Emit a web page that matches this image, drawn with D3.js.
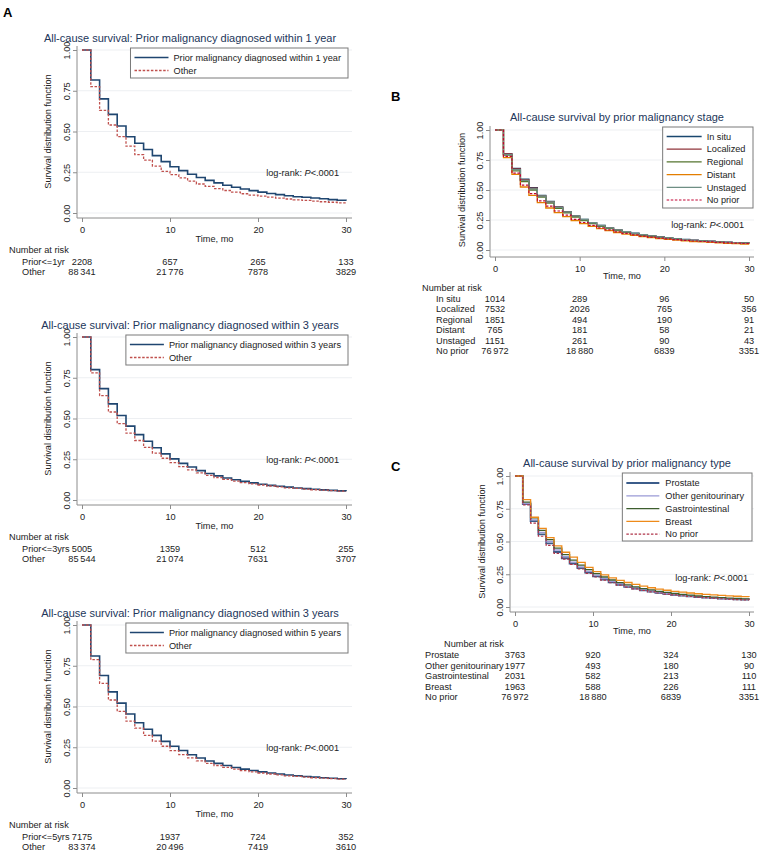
<!DOCTYPE html>
<html><head><meta charset="utf-8">
<script src="https://cdn.jsdelivr.net/npm/d3@7"></script>
<style>
body{margin:0;background:#fff;}
svg text{font-family:"Liberation Sans", Arial, sans-serif;}
</style>
</head><body>
<svg id="chart" width="760" height="853"></svg>
<script>
// ---------- shared ----------
const xTicks = [0, 10, 20, 30];
const yTicks = [0, 0.25, 0.5, 0.75, 1];
const riskHeader = "Number at risk";
const logRankLabel = "log-rank: ";
const logRankP = "P";
const logRankValue = "<.0001";
const xTitle = "Time, mo";
const yTitle = "Survival distribution function";

// ---------- Panel A1 : within 1 year ----------
const a1Title = "All-cause survival: Prior malignancy diagnosed within 1 year";
const a1Legend = ["Prior malignancy diagnosed within 1 year", "Other"];
const a1Prior = [1, 0.816, 0.70, 0.605, 0.534, 0.468, 0.428, 0.39, 0.352, 0.315, 0.284, 0.26, 0.238, 0.218, 0.2, 0.185, 0.17, 0.158, 0.147, 0.137, 0.128, 0.12, 0.113, 0.106, 0.1, 0.097, 0.092, 0.087, 0.082, 0.078, 0.075];
const a1Other = [1, 0.775, 0.63, 0.54, 0.468, 0.41, 0.358, 0.325, 0.288, 0.255, 0.235, 0.215, 0.195, 0.178, 0.163, 0.15, 0.138, 0.128, 0.118, 0.11, 0.104, 0.097, 0.091, 0.086, 0.081, 0.077, 0.073, 0.069, 0.066, 0.062, 0.059];
const a1RiskLabels = ["Prior<=1yr", "Other"];
const a1RiskPrior = ["2208", "657", "265", "133"];
const a1RiskOther = ["88\u2009341", "21\u2009776", "7878", "3829"];

// ---------- Panel A2 : within 3 years ----------
const a2Title = "All-cause survival: Prior malignancy diagnosed within 3 years";
const a2Legend = ["Prior malignancy diagnosed within 3 years", "Other"];
const a2Prior = [1, 0.80, 0.683, 0.59, 0.518, 0.453, 0.401, 0.36, 0.321, 0.283, 0.252, 0.225, 0.202, 0.18, 0.163, 0.148, 0.135, 0.124, 0.114, 0.105, 0.097, 0.09, 0.084, 0.079, 0.074, 0.07, 0.066, 0.062, 0.059, 0.056, 0.054];
const a2Other = [1, 0.78, 0.64, 0.54, 0.468, 0.41, 0.365, 0.323, 0.288, 0.256, 0.229, 0.205, 0.185, 0.167, 0.151, 0.138, 0.126, 0.116, 0.107, 0.099, 0.092, 0.086, 0.08, 0.075, 0.071, 0.067, 0.063, 0.06, 0.057, 0.054, 0.052];
const a2RiskLabels = ["Prior<=3yrs", "Other"];
const a2RiskPrior = ["5005", "1359", "512", "255"];
const a2RiskOther = ["85\u2009544", "21\u2009074", "7631", "3707"];

// ---------- Panel A3 : within 5 years ----------
const a3Title = "All-cause survival: Prior malignancy diagnosed within 3 years";
const a3Legend = ["Prior malignancy diagnosed within 5 years", "Other"];
const a3Prior = [1, 0.81, 0.69, 0.59, 0.521, 0.454, 0.40, 0.36, 0.323, 0.286, 0.256, 0.23, 0.204, 0.184, 0.166, 0.151, 0.138, 0.126, 0.116, 0.107, 0.099, 0.092, 0.086, 0.08, 0.075, 0.071, 0.067, 0.063, 0.06, 0.057, 0.055];
const a3Other = [1, 0.787, 0.642, 0.54, 0.47, 0.41, 0.367, 0.323, 0.288, 0.256, 0.229, 0.205, 0.185, 0.167, 0.151, 0.138, 0.126, 0.116, 0.107, 0.099, 0.092, 0.086, 0.08, 0.075, 0.071, 0.067, 0.063, 0.06, 0.057, 0.054, 0.052];
const a3RiskLabels = ["Prior<=5yrs", "Other"];
const a3RiskPrior = ["7175", "1937", "724", "352"];
const a3RiskOther = ["83\u2009374", "20\u2009496", "7419", "3610"];

// ---------- Panel B : by stage ----------
const bTitle = "All-cause survival by prior malignancy stage";
const bLegend = ["In situ", "Localized", "Regional", "Distant", "Unstaged", "No prior"];
const bInSitu    = [1, 0.80, 0.68, 0.59, 0.52, 0.455, 0.405, 0.36, 0.32, 0.285, 0.255, 0.228, 0.205, 0.185, 0.168, 0.153, 0.14, 0.128, 0.118, 0.109, 0.101, 0.094, 0.088, 0.082, 0.077, 0.073, 0.069, 0.065, 0.062, 0.059, 0.057];
const bLocalized = [1, 0.80, 0.675, 0.585, 0.515, 0.45, 0.40, 0.357, 0.318, 0.282, 0.252, 0.225, 0.202, 0.182, 0.165, 0.15, 0.137, 0.125, 0.115, 0.106, 0.098, 0.091, 0.085, 0.08, 0.075, 0.071, 0.067, 0.064, 0.061, 0.058, 0.056];
const bRegional  = [1, 0.79, 0.66, 0.57, 0.50, 0.44, 0.39, 0.348, 0.31, 0.275, 0.245, 0.219, 0.197, 0.178, 0.161, 0.147, 0.134, 0.123, 0.113, 0.104, 0.096, 0.089, 0.083, 0.078, 0.073, 0.069, 0.065, 0.062, 0.059, 0.056, 0.054];
const bDistant   = [1, 0.77, 0.63, 0.525, 0.455, 0.395, 0.35, 0.312, 0.278, 0.246, 0.22, 0.197, 0.178, 0.161, 0.146, 0.133, 0.122, 0.112, 0.103, 0.095, 0.088, 0.082, 0.076, 0.071, 0.067, 0.063, 0.059, 0.056, 0.053, 0.05, 0.048];
const bUnstaged  = [1, 0.795, 0.67, 0.58, 0.51, 0.45, 0.40, 0.356, 0.318, 0.284, 0.254, 0.227, 0.204, 0.184, 0.167, 0.152, 0.139, 0.127, 0.117, 0.108, 0.1, 0.093, 0.087, 0.081, 0.076, 0.072, 0.068, 0.064, 0.061, 0.058, 0.056];
const bNoPrior   = [1, 0.78, 0.64, 0.54, 0.47, 0.41, 0.365, 0.325, 0.29, 0.256, 0.229, 0.205, 0.185, 0.167, 0.151, 0.138, 0.126, 0.116, 0.107, 0.099, 0.092, 0.086, 0.08, 0.075, 0.071, 0.067, 0.063, 0.06, 0.057, 0.054, 0.052];
const bRisk = [
  ["1014", "289", "96", "50"],
  ["7532", "2026", "765", "356"],
  ["1851", "494", "190", "91"],
  ["765", "181", "58", "21"],
  ["1151", "261", "90", "43"],
  ["76\u2009972", "18\u2009880", "6839", "3351"]
];

// ---------- Panel C : by type ----------
const cTitle = "All-cause survival by prior malignancy type";
const cLegend = ["Prostate", "Other genitourinary", "Gastrointestinal", "Breast", "No prior"];
const cProstate = [1, 0.785, 0.655, 0.555, 0.485, 0.42, 0.372, 0.332, 0.296, 0.262, 0.234, 0.209, 0.188, 0.17, 0.154, 0.14, 0.128, 0.118, 0.108, 0.1, 0.093, 0.087, 0.081, 0.076, 0.072, 0.068, 0.065, 0.062, 0.059, 0.057, 0.055];
const cOtherGU  = [1, 0.79, 0.665, 0.57, 0.50, 0.435, 0.385, 0.343, 0.306, 0.272, 0.243, 0.217, 0.195, 0.176, 0.16, 0.146, 0.133, 0.122, 0.113, 0.104, 0.097, 0.09, 0.084, 0.079, 0.074, 0.07, 0.066, 0.063, 0.06, 0.058, 0.056];
const cGI       = [1, 0.80, 0.68, 0.585, 0.515, 0.45, 0.40, 0.358, 0.32, 0.285, 0.255, 0.229, 0.206, 0.186, 0.169, 0.154, 0.141, 0.13, 0.12, 0.111, 0.103, 0.096, 0.09, 0.084, 0.079, 0.075, 0.071, 0.068, 0.065, 0.062, 0.06];
const cBreast   = [1, 0.82, 0.685, 0.60, 0.53, 0.466, 0.418, 0.38, 0.34, 0.303, 0.27, 0.245, 0.223, 0.204, 0.187, 0.172, 0.159, 0.147, 0.137, 0.128, 0.12, 0.113, 0.107, 0.101, 0.096, 0.092, 0.088, 0.085, 0.082, 0.079, 0.077];
const cNoPrior  = [1, 0.78, 0.64, 0.54, 0.47, 0.41, 0.365, 0.325, 0.29, 0.256, 0.229, 0.205, 0.185, 0.167, 0.151, 0.138, 0.126, 0.116, 0.107, 0.099, 0.092, 0.086, 0.08, 0.075, 0.071, 0.067, 0.063, 0.06, 0.057, 0.054, 0.052];
const cRisk = [
  ["3763", "920", "324", "130"],
  ["1977", "493", "180", "90"],
  ["2031", "582", "213", "110"],
  ["1963", "588", "226", "111"],
  ["76\u2009972", "18\u2009880", "6839", "3351"]
];

const panelLetters = ["A", "B", "C"];

// ---------- drawing ----------
const svg = d3.select("#chart");
const FS = 9.2;
const axisCol = "#8c8c8c";
const gridCol = "#edeff2";
const titleCol = "#22365a";
const textCol = "#222";

const navy = "#1f4670", red = "#c0504d";

function drawPanel(p) {
  const g = svg.append("g");
  const x = d3.scaleLinear().domain([0, 30]).range(p.xr);
  const y = d3.scaleLinear().domain([0, 1]).range(p.yr);

  // grid
  g.selectAll("line.grid").data(yTicks).join("line").attr("class", "grid")
    .attr("x1", p.ax + 1).attr("x2", p.right).attr("y1", d => y(d)).attr("y2", d => y(d))
    .attr("stroke", gridCol).attr("stroke-width", 1);

  // y axis
  const ya = g.append("g").attr("transform", `translate(${p.ax},0)`)
    .call(d3.axisLeft(y).tickValues(yTicks).tickFormat(d3.format(".2f")).tickSize(4));
  ya.select(".domain").remove();
  ya.selectAll(".tick line").attr("stroke", axisCol);
  ya.selectAll(".tick text").attr("transform", "rotate(-90)").attr("x", 0).attr("y", -7)
    .attr("dy", 0).attr("text-anchor", "middle").attr("fill", textCol)
    .attr("font-size", FS).attr("font-family", "Liberation Sans, Arial, sans-serif");

  // x axis
  const xa = g.append("g").attr("transform", `translate(0,${p.ay})`)
    .call(d3.axisBottom(x).tickValues(xTicks).tickFormat(d3.format("d")).tickSize(4));
  xa.select(".domain").remove();
  xa.selectAll(".tick line").attr("stroke", axisCol);
  xa.selectAll(".tick text").attr("y", 8).attr("fill", textCol)
    .attr("font-size", FS).attr("font-family", "Liberation Sans, Arial, sans-serif");

  // axis lines
  g.append("line").attr("x1", p.ax).attr("x2", p.ax).attr("y1", p.top).attr("y2", p.ay)
    .attr("stroke", axisCol);
  g.append("line").attr("x1", p.ax).attr("x2", p.right).attr("y1", p.ay).attr("y2", p.ay)
    .attr("stroke", axisCol);

  // titles
  g.append("text").attr("x", (p.ax + p.right) / 2).attr("y", p.ay + p.xtitleDy)
    .attr("text-anchor", "middle").attr("font-size", FS).attr("fill", textCol).text(xTitle);
  g.append("text").attr("transform", `translate(${p.ytitleX},${(p.yr[0] + p.yr[1]) / 2}) rotate(-90)`)
    .attr("text-anchor", "middle").attr("dy", "0.35em").attr("font-size", FS).attr("fill", textCol).text(yTitle);
  g.append("text").attr("x", p.titleX).attr("y", p.titleY).attr("dy", "0.35em")
    .attr("text-anchor", "middle").attr("font-size", 11).attr("fill", titleCol).text(p.title);

  // curves
  const line = d3.line().x((d, i) => x(i)).y(d => y(d)).curve(d3.curveStepAfter);
  p.series.forEach(s => {
    g.append("path").attr("d", line(s.values)).attr("fill", "none")
      .attr("stroke", s.color).attr("stroke-width", s.width)
      .attr("stroke-dasharray", s.dash || null);
  });

  // log-rank
  const lr = g.append("text").attr("x", p.lrX).attr("y", p.lrY).attr("dy", "0.35em")
    .attr("text-anchor", "end").attr("font-size", FS).attr("fill", textCol);
  lr.append("tspan").text(logRankLabel);
  lr.append("tspan").attr("font-style", "italic").text(logRankP);
  lr.append("tspan").text(logRankValue);

  // legend
  const lg = g.append("g");
  const box = lg.append("rect");
  const texts = p.series.map((s, i) => lg.append("text").attr("y", p.legTop + p.legRow0 + i * p.legDy)
    .attr("dy", "0.35em").attr("font-size", FS).attr("fill", textCol).text(s.label));
  const maxW = d3.max(texts, t => t.node().getComputedTextLength());
  const textX = p.legRight - p.legPadR - maxW;
  const lx2 = textX - p.legGap, lx1 = lx2 - p.legLine;
  texts.forEach(t => t.attr("x", textX));
  p.series.forEach((s, i) => {
    const yy = p.legTop + p.legRow0 + i * p.legDy;
    lg.append("line").attr("x1", lx1).attr("x2", lx2).attr("y1", yy).attr("y2", yy)
      .attr("stroke", s.color).attr("stroke-width", s.width).attr("stroke-dasharray", s.dash || null);
  });
  box.attr("x", lx1 - 4).attr("y", p.legTop).attr("width", p.legRight - lx1 + 4)
    .attr("height", p.legH).attr("fill", "#fff").attr("stroke", "#7a7a7a").attr("stroke-width", 1);

  // risk table
  g.append("text").attr("x", p.riskHeadX).attr("y", p.riskHeadY).attr("dy", "0.35em")
    .attr("font-size", FS).attr("fill", textCol).text(riskHeader);
  p.riskLabels.forEach((lab, i) => {
    const yy = p.riskRow0 + i * p.riskDy;
    g.append("text").attr("x", p.riskLabelX).attr("y", yy).attr("dy", "0.35em")
      .attr("font-size", FS).attr("fill", textCol).text(lab);
    g.selectAll(null).data(p.riskValues[i]).join("text")
      .attr("x", (d, j) => x(xTicks[j])).attr("y", yy).attr("dy", "0.35em")
      .attr("text-anchor", "middle").attr("font-size", FS).attr("fill", textCol).text(d => d);
  });
}

function aPanel(off, title, legend, prior, other, riskLabels, riskPrior, riskOther) {
  drawPanel({
    title, titleX: 190, titleY: 38 + off,
    ax: 77, right: 352, top: 46 + off, ay: 218 + off,
    xr: [82, 346], yr: [213 + off, 50 + off],
    xtitleDy: 24, ytitleX: 48,
    lrX: 339, lrY: 173 + off,
    legRight: 348, legTop: 48 + off, legRow0: 9.5, legDy: 13, legH: 30,
    legPadR: 7, legGap: 5, legLine: 34,
    series: [
      { label: legend[0], values: prior, color: navy, width: 1.6 },
      { label: legend[1], values: other, color: red, width: 1.3, dash: "2.5,1.6" }
    ],
    riskHeadX: 9, riskHeadY: 250 + off, riskLabelX: 22, riskRow0: 261.5 + off, riskDy: 10.5,
    riskLabels, riskValues: [riskPrior, riskOther]
  });
}

aPanel(0, a1Title, a1Legend, a1Prior, a1Other, a1RiskLabels, a1RiskPrior, a1RiskOther);
aPanel(287, a2Title, a2Legend, a2Prior, a2Other, a2RiskLabels, a2RiskPrior, a2RiskOther);
aPanel(575, a3Title, a3Legend, a3Prior, a3Other, a3RiskLabels, a3RiskPrior, a3RiskOther);

drawPanel({
  title: bTitle, titleX: 617, titleY: 117,
  ax: 490, right: 754, top: 126, ay: 257,
  xr: [495, 749], yr: [250, 130],
  xtitleDy: 22, ytitleX: 462,
  lrX: 744, lrY: 225,
  legRight: 753, legTop: 127, legRow0: 9.5, legDy: 12.7, legH: 81,
  legPadR: 7, legGap: 5, legLine: 35,
  series: [
    { label: bLegend[0], values: bInSitu, color: "#1a476f", width: 1.3 },
    { label: bLegend[1], values: bLocalized, color: "#90353b", width: 1.3 },
    { label: bLegend[2], values: bRegional, color: "#55752f", width: 1.3 },
    { label: bLegend[3], values: bDistant, color: "#e37e00", width: 1.3 },
    { label: bLegend[4], values: bUnstaged, color: "#6e8e84", width: 1.3 },
    { label: bLegend[5], values: bNoPrior, color: "#c10534", width: 1.2, dash: "2.5,1.6" }
  ],
  riskHeadX: 422, riskHeadY: 288, riskLabelX: 436, riskRow0: 298.5, riskDy: 10.5,
  riskLabels: bLegend, riskValues: bRisk
});

drawPanel({
  title: cTitle, titleX: 627, titleY: 463,
  ax: 510, right: 754, top: 472, ay: 612,
  xr: [515, 749], yr: [607, 476],
  xtitleDy: 22, ytitleX: 482,
  lrX: 748, lrY: 578,
  legRight: 752, legTop: 473, legRow0: 10, legDy: 12.8, legH: 68,
  legPadR: 8, legGap: 6, legLine: 33,
  series: [
    { label: cLegend[0], values: cProstate, color: "#3b5c8a", width: 1.8 },
    { label: cLegend[1], values: cOtherGU, color: "#9a9ad6", width: 1.3 },
    { label: cLegend[2], values: cGI, color: "#3d5e2e", width: 1.3 },
    { label: cLegend[3], values: cBreast, color: "#ee8a1a", width: 1.3 },
    { label: cLegend[4], values: cNoPrior, color: "#b0354a", width: 1.2, dash: "2.5,1.6" }
  ],
  riskHeadX: 444, riskHeadY: 644, riskLabelX: 425, riskRow0: 655, riskDy: 10.5,
  riskLabels: cLegend, riskValues: cRisk
});

// panel letters
const letterPos = [[3, 12], [391, 96], [391, 466]];
svg.selectAll("text.letter").data(panelLetters).join("text").attr("class", "letter")
  .attr("x", (d, i) => letterPos[i][0]).attr("y", (d, i) => letterPos[i][1]).attr("dy", "0.35em")
  .attr("font-size", 13).attr("font-weight", "bold").attr("fill", "#000").text(d => d);
</script>
</body></html>
